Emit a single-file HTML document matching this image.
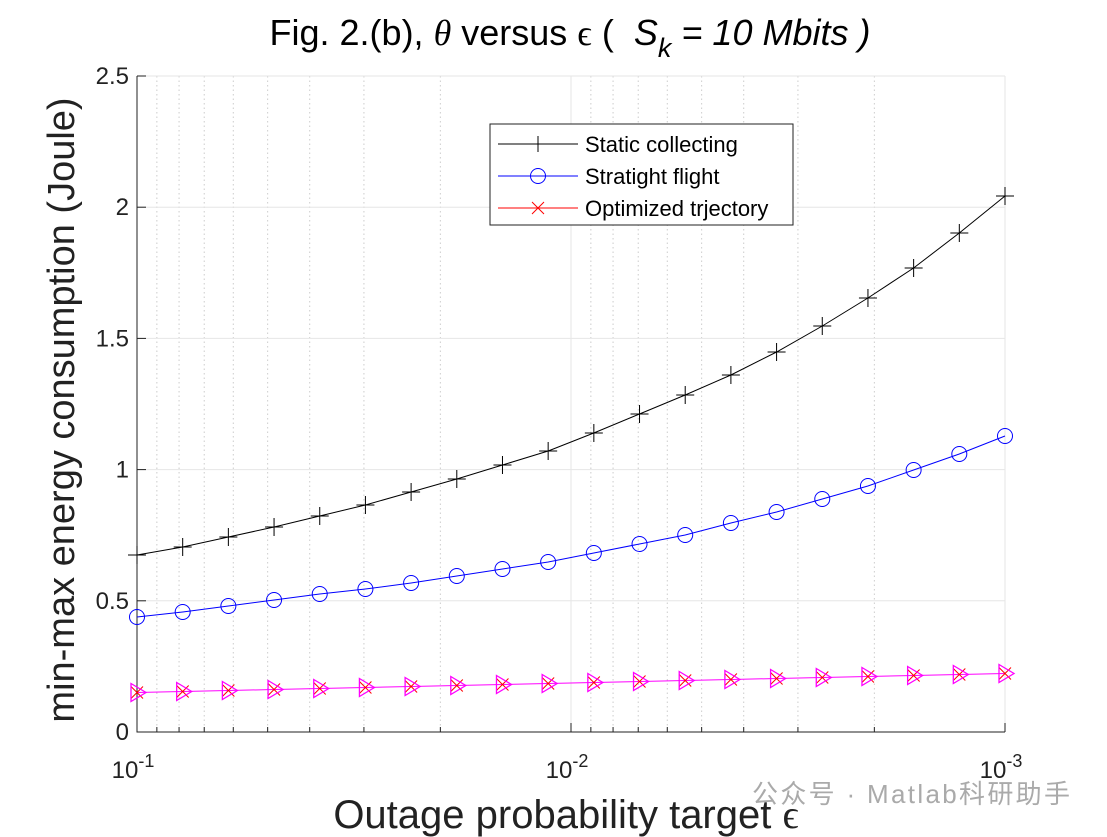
<!DOCTYPE html><html><head><style>body{margin:0;background:#fff}svg{display:block;font-family:"Liberation Sans","Noto Sans CJK SC",sans-serif}</style></head><body>
<svg id="s" width="1107" height="837" xmlns="http://www.w3.org/2000/svg"></svg>
<script>
var s=document.getElementById('s'),h='';
var L=137,R=1005,T=76,B=732;
function X(v){return L+(-1-Math.log10(v))*(R-L)/2;}
function Y(v){return B-v*(B-T)/2.5;}
for(var d=-1;d>=-2;d--){for(var k=9;k>=2;k--){var v=k*Math.pow(10,d-1);var x=X(v);h+='<line x1="'+x+'" y1="'+T+'" x2="'+x+'" y2="'+B+'" stroke="#ccc" stroke-dasharray="1.5,3"/>';h+='<line x1="'+x+'" y1="'+B+'" x2="'+x+'" y2="'+(B-5)+'" stroke="#222"/>';}}
[0.5,1,1.5,2,2.5].forEach(function(v){h+='<line x1="'+L+'" y1="'+Y(v)+'" x2="'+R+'" y2="'+Y(v)+'" stroke="#e6e6e6"/>';});
[571,1005].forEach(function(x){h+='<line x1="'+x+'" y1="'+T+'" x2="'+x+'" y2="'+B+'" stroke="#e6e6e6"/>';});
h+='<path d="M'+L+' '+T+'V'+B+'H'+R+'" fill="none" stroke="#222"/>';
[0,0.5,1,1.5,2,2.5].forEach(function(v){var y=Y(v);h+='<line x1="'+L+'" y1="'+y+'" x2="'+(L+9)+'" y2="'+y+'" stroke="#222"/><text x="'+(L-8)+'" y="'+(y+8)+'" font-size="24" text-anchor="end" fill="#222">'+v+'</text>';});
[L,571,R].forEach(function(x,i){h+='<line x1="'+x+'" y1="'+B+'" x2="'+x+'" y2="'+(B-9)+'" stroke="#222"/><text x="'+(x-4)+'" y="778" font-size="24" text-anchor="middle" fill="#222">10<tspan dy="-11" font-size="18">-'+(i+1)+'</tspan></text>';});
var bk=[555,547,537,527,516,505,492,479,465,451,433,414,395,375,352,326,298,268,233,196];
var bl=[617,612,606,600,594,589,583,576,569,562,553,544,535,523,512,499,486,470,454,436];
function xs(i){return L+i*(R-L)/19;}
function line(a,c){var p='';a.forEach(function(y,i){p+=(i?'L':'M')+xs(i).toFixed(1)+' '+y;});return '<path d="'+p+'" fill="none" stroke="'+c+'" stroke-width="1"/>';}
var mg=[];for(var i=0;i<20;i++)mg.push(692.5-i);
h+=line(bk,'#000')+line(bl,'#00f')+line(mg,'#f0f');
for(var i=0;i<20;i++){var x=xs(i);
h+='<path d="M'+(x-9)+' '+bk[i]+'h18M'+x+' '+(bk[i]-9)+'v18" stroke="#000"/>';
h+='<circle cx="'+x+'" cy="'+bl[i]+'" r="7.5" fill="none" stroke="#00f"/>';
var y=mg[i];h+='<path d="M'+(x-6)+' '+(y-6)+'l12 12M'+(x-6)+' '+(y+6)+'l12 -12" stroke="#f00"/>';
h+='<path d="M'+(x-6)+' '+(y-9)+'L'+(x+9)+' '+y+'L'+(x-6)+' '+(y+9)+'Z" fill="none" stroke="#f0f" stroke-width="1.3"/>';}
h+='<rect x="490" y="124" width="303" height="101" fill="#fff" stroke="#222"/>';
var ly=[144,176,208],lc=['#000','#00f','#f00'],lt=['Static collecting','Stratight flight','Optimized trjectory'];
for(var j=0;j<3;j++){h+='<line x1="498" y1="'+ly[j]+'" x2="578" y2="'+ly[j]+'" stroke="'+lc[j]+'"/><text x="585" y="'+(ly[j]+8)+'" font-size="22" fill="#000">'+lt[j]+'</text>';}
h+='<path d="M538 136v16" stroke="#000"/><circle cx="538" cy="176" r="7.5" fill="none" stroke="#00f"/><path d="M532 202l12 12M532 214l12 -12" stroke="#f00"/>';
h+='<text x="570" y="45" font-size="36" text-anchor="middle" fill="#000">Fig. 2.(b), <tspan font-style="italic" font-family="Liberation Serif">θ</tspan> versus <tspan font-family="Liberation Serif">ϵ</tspan> (\u00a0\u00a0<tspan font-style="italic">S</tspan><tspan font-style="italic" font-size="27" dy="12">k</tspan><tspan dy="-12" font-style="italic"> = 10 Mbits )</tspan></text>';
h+='<text x="566" y="828" font-size="40" text-anchor="middle" fill="#222">Outage probability target <tspan font-family="Liberation Serif">ϵ</tspan></text>';
h+='<text transform="translate(74,410) rotate(-90)" font-size="38" text-anchor="middle" fill="#222">min-max energy consumption (Joule)</text>';
h+='<text x="752" y="803" font-size="26" fill="#aaa" textLength="318">公众号 · Matlab科研助手</text>';
s.innerHTML=h;
</script></body></html>
